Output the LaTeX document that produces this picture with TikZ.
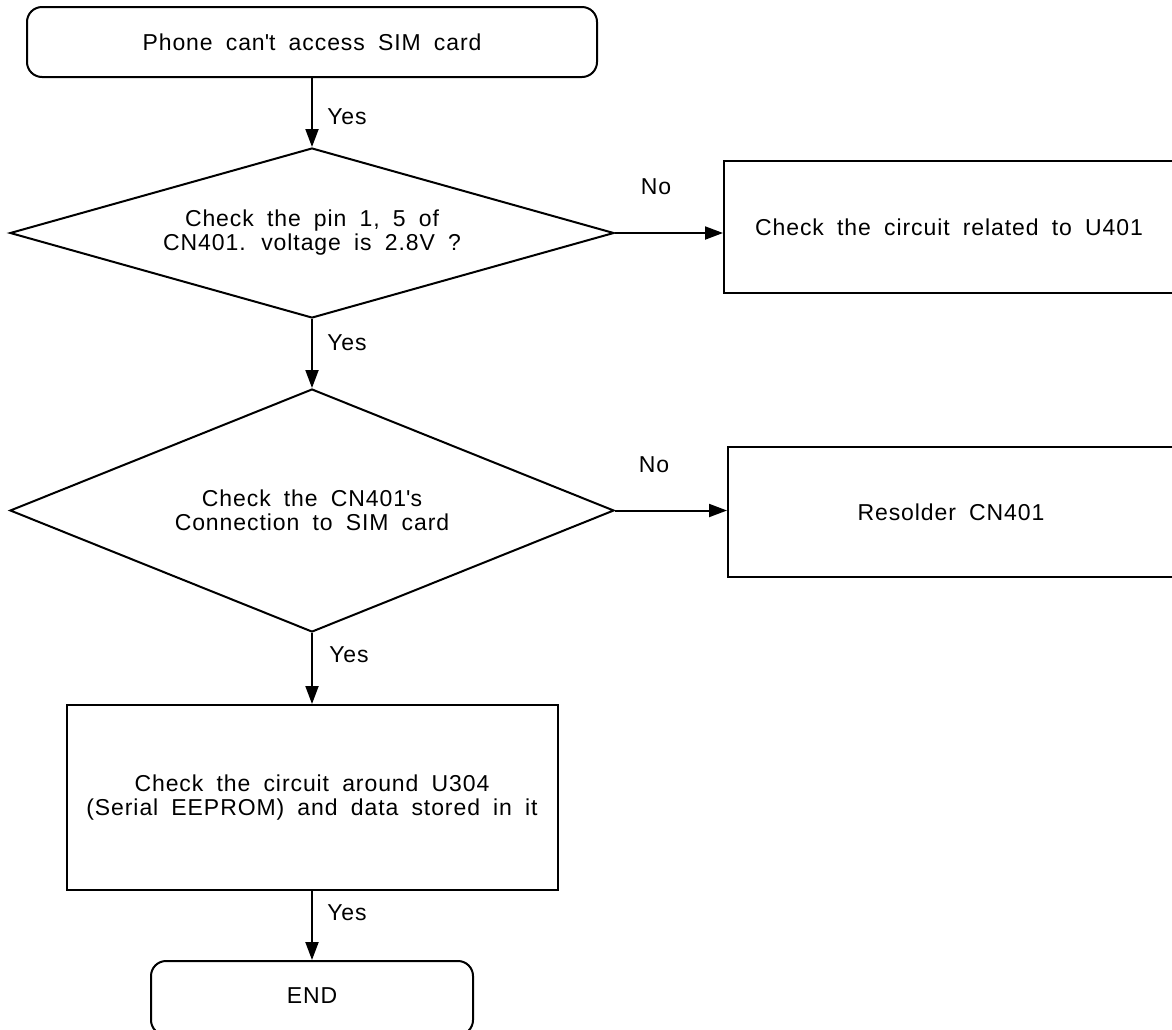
\documentclass[tikz,border=0pt]{standalone}
\usepackage{fontspec}
\setmainfont{Liberation Sans}[LetterSpace=4,WordSpace=1.8]
\usetikzlibrary{shapes.geometric,arrows.meta}
\begin{document}
\begin{tikzpicture}[x=1pt,y=-1pt,
  font=\fontsize{23}{24}\selectfont,
  term/.style={draw, rectangle, line width=2pt, rounded corners=15pt, align=center, inner sep=0pt},
  proc/.style={draw, rectangle, line width=2pt, align=center, inner sep=0pt},
  dec/.style={draw, diamond, line width=2pt, align=center, inner sep=0pt},
  arr/.style={line width=2pt, -{Triangle[length=18pt,width=13pt]}},
  lbl/.style={inner sep=0pt}]
\useasboundingbox (0,0) rectangle (1172,1029);
\fill[white] (0,0) rectangle (1172,1029);

\node[term, minimum width=570pt, minimum height=70pt] (start) at (312,42) {Phone can\textquotesingle t access SIM card};
\node[dec, aspect=3.5, minimum width=604pt, minimum height=170pt] (d1) at (312,233) {Check the pin 1, 5 of\\CN401. voltage is 2.8V ?};
\node[proc, minimum width=450pt, minimum height=132pt] (b1) at (949,227) {Check the circuit related to U401};
\node[dec, aspect=2.5, minimum width=604pt, minimum height=243pt] (d2) at (312,510.5) {Check the CN401\textquotesingle s\\Connection to SIM card};
\node[proc, minimum width=446pt, minimum height=130pt] (b2) at (951,512) {Resolder CN401};
\node[proc, minimum width=491pt, minimum height=185pt] (b3) at (312,797.5) {Check the circuit around U304\\(Serial EEPROM) and data stored in it};
\node[term, minimum width=322pt, minimum height=74pt] (end) at (312,998) {};
\node[lbl] (endtext) at (312,996) {END};

\draw[arr] (start.south -| d1.north) -- (d1.north);
\draw[arr] (d1.south) -- (d2.north);
\draw[arr] (d2.south) -- (b3.north);
\draw[arr] (b3.south) -- (end.north);
\draw[arr] (d1.east) -- (d1.east -| b1.west);
\draw[arr] (d2.east) -- (d2.east -| b2.west);

\node[lbl] (y1) at (347,117) {Yes};
\node[lbl] (y2) at (347,343) {Yes};
\node[lbl] (y3) at (349,655) {Yes};
\node[lbl] (y4) at (347,913) {Yes};
\node[lbl] (n1) at (656,187) {No};
\node[lbl] (n2) at (654,465) {No};
\end{tikzpicture}
\end{document}
